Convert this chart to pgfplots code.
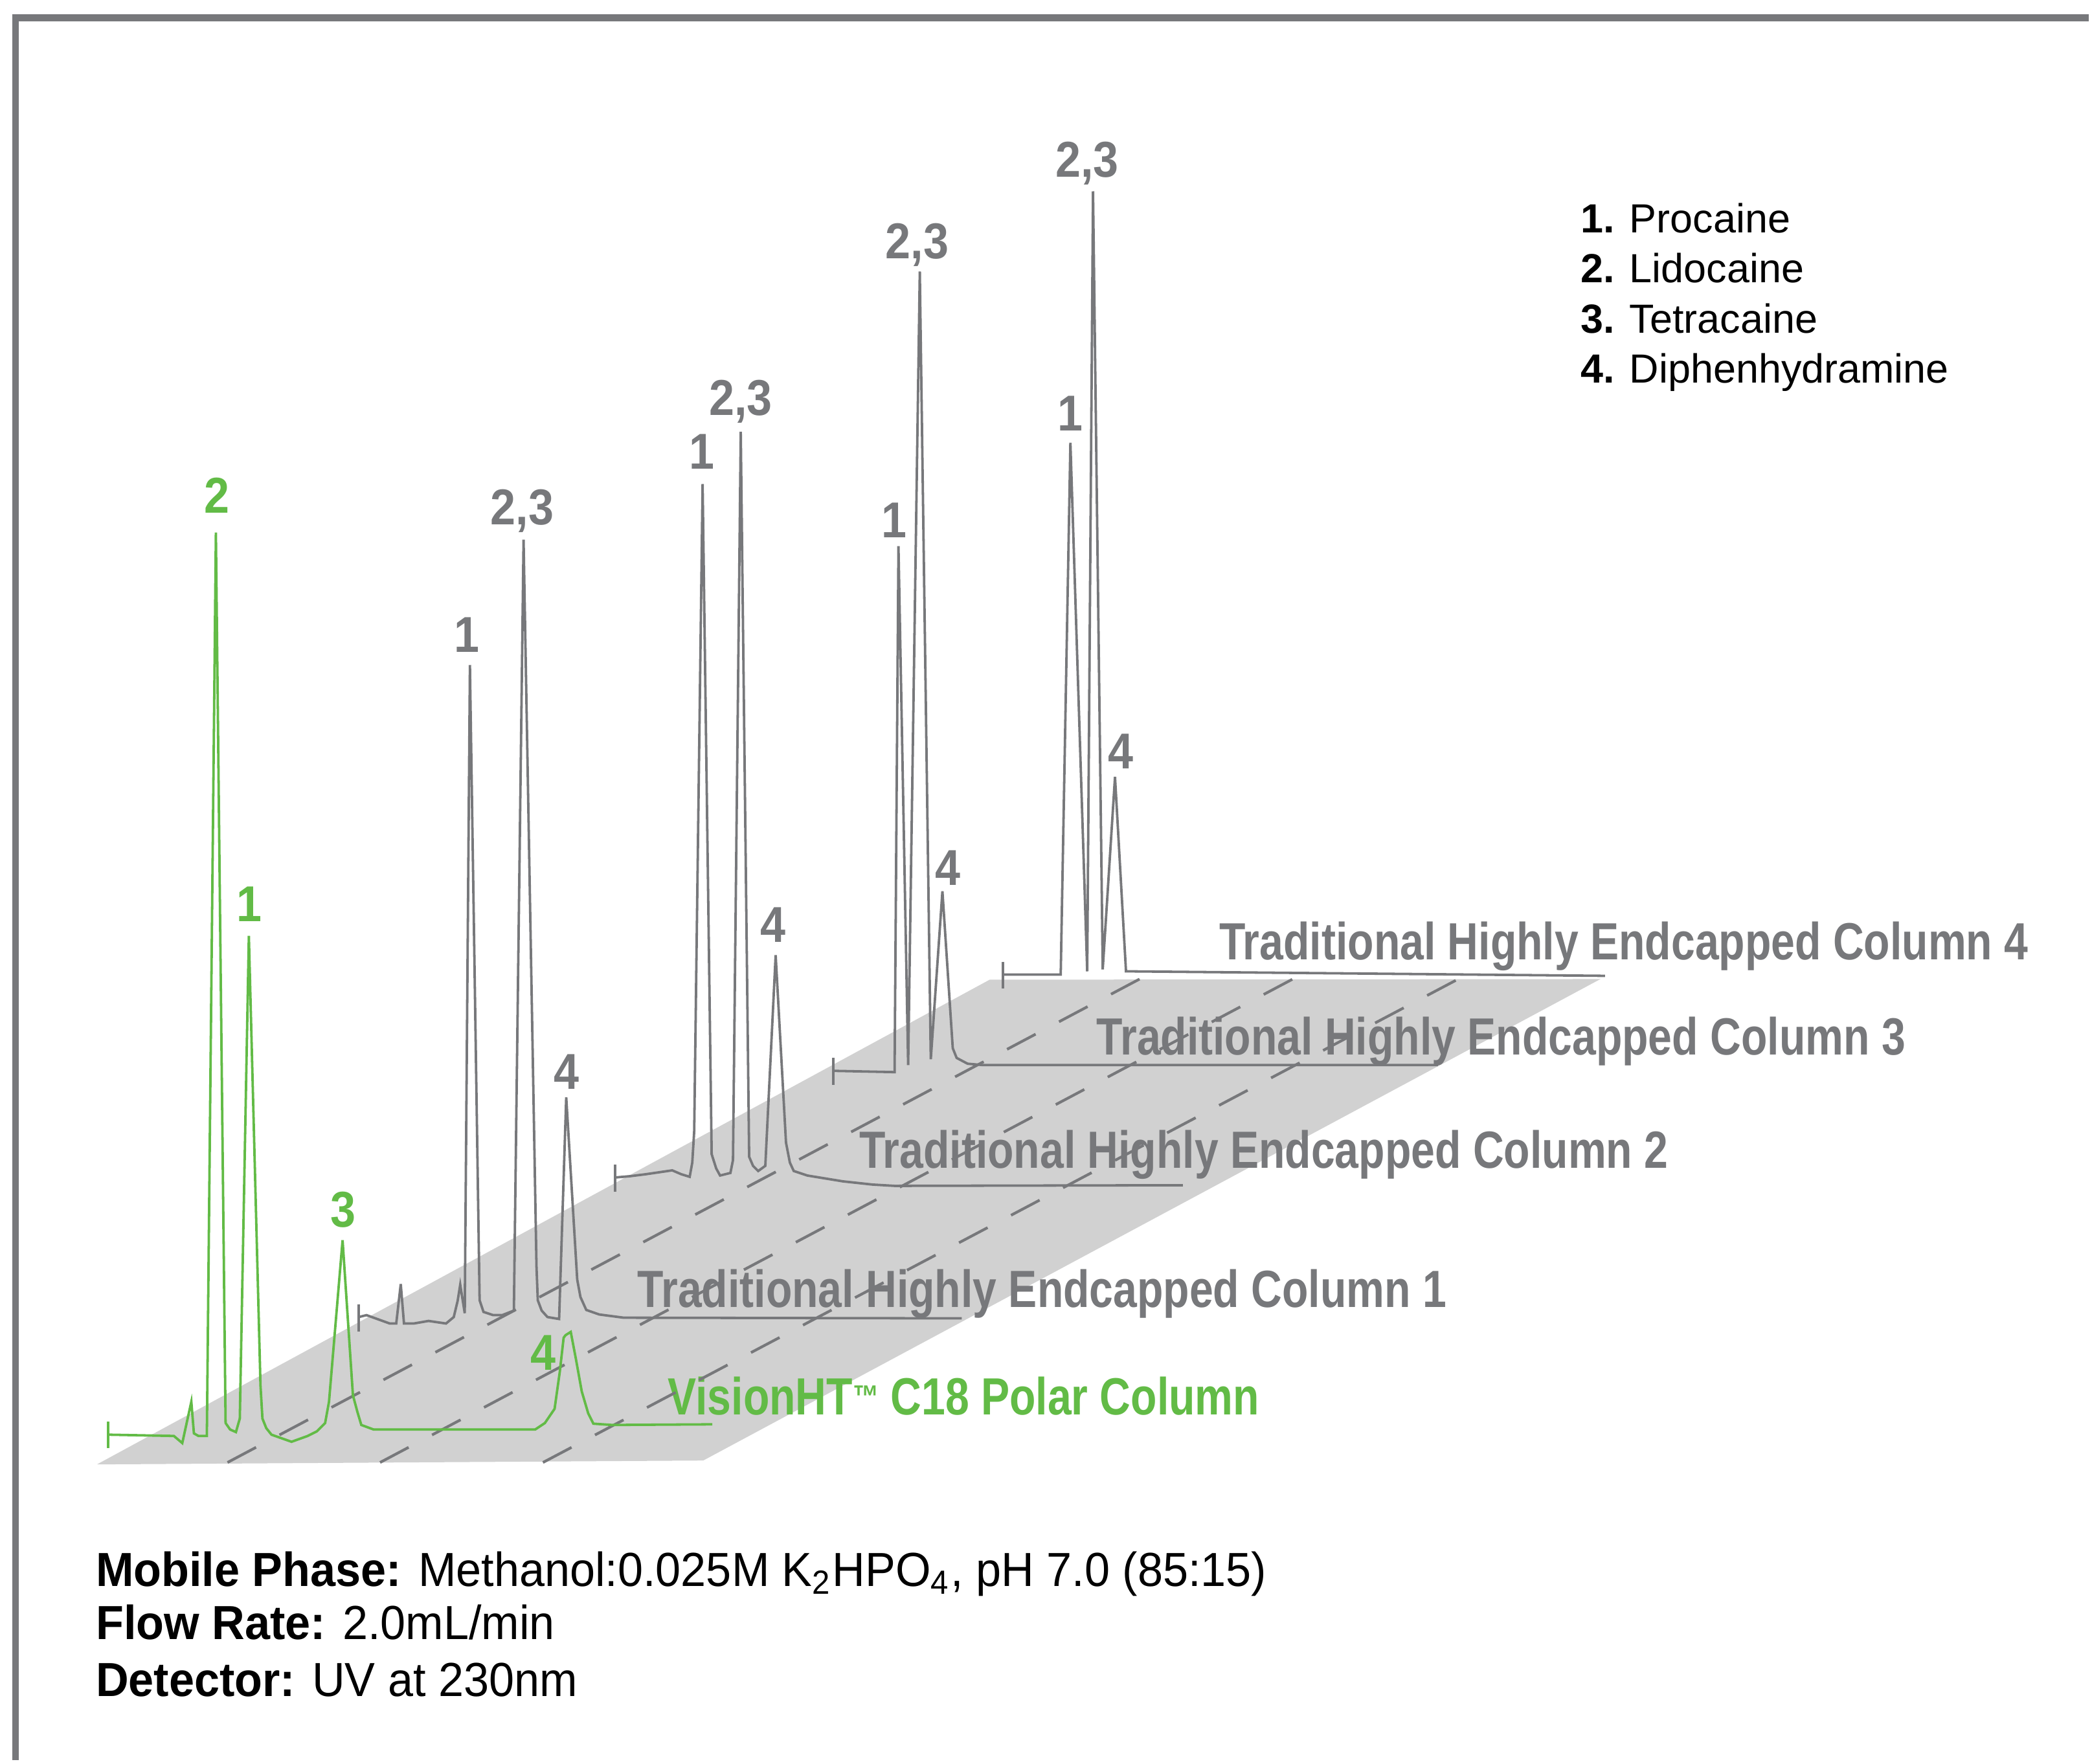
\documentclass[border=0pt]{standalone}
\usepackage{fontspec}
\setmainfont{Liberation Sans}
\newfontfamily\colfont[FakeStretch=0.818]{Liberation Sans}
\newfontfamily\peakfont[FakeStretch=0.9]{Liberation Sans}
\newfontfamily\notefont[FakeStretch=0.95]{Liberation Sans}
\usepackage{pgfplots}
\pgfplotsset{compat=1.18}

\definecolor{cgray}{RGB}{119,120,123}
\definecolor{vgreen}{RGB}{98,187,70}
\definecolor{floorgray}{RGB}{209,209,209}

% one drawing unit = 0.05 mm
\newcommand{\colsize}{\fontsize{11.52pt}{13pt}\selectfont}
\newcommand{\peaksize}{\fontsize{11.1pt}{12pt}\selectfont}
\newcommand{\legsize}{\fontsize{8.96pt}{10pt}\selectfont}
\newcommand{\notesize}{\fontsize{10.53pt}{12pt}\selectfont}

\tikzset{
  trace/.style={line width=0.19mm},
  peak/.style={anchor=base, inner sep=0pt, font=\peakfont\peaksize\bfseries},
  col/.style={anchor=base west, inner sep=0pt, font=\colfont\colsize\bfseries},
  note/.style={anchor=base west, inner sep=0pt, font=\notefont\notesize},
  key/.style={anchor=base west, inner sep=0pt, font=\legsize},
  guide/.style={cgray, line width=0.21mm, dash pattern=on 2.5mm off 2.05mm},
}

\begin{document}
\begin{tikzpicture}
\begin{axis}[
  scale only axis, width=161.55mm, height=136.2mm,
  xmin=0, xmax=3231, ymin=0, ymax=2724, y dir=reverse,
  hide axis, clip=false,
]
% page extent
\addplot[draw=none] coordinates {(0,0) (3231,2724)};

% frame
\addplot[cgray, line width=0.55mm] coordinates {(19,27.5) (3231,27.5)};
\addplot[cgray, line width=0.5mm] coordinates {(24,22) (24,2724)};

% floor of the stacked view
\addplot[draw=none, fill=floorgray] coordinates {(150,2266) (1088,2260) (2476,1515) (1531,1516)} -- cycle;

% column labels
\node[col, text=cgray] at (axis cs:1885,1485) {Traditional Highly Endcapped Column 4};
\node[col, text=cgray] at (axis cs:1695,1632) {Traditional Highly Endcapped Column 3};
\node[col, text=cgray] at (axis cs:1328,1808) {Traditional Highly Endcapped Column 2};
\node[col, text=cgray] at (axis cs:985,2023) {Traditional Highly Endcapped Column 1};
\node[col, text=vgreen] at (axis cs:1032,2189) {VisionHT{\fontsize{7pt}{8pt}\selectfont\raisebox{0.4ex}{™}} C18 Polar Column};

% time guide lines
\addplot[guide] coordinates {(352,2263) (1763,1515)};
\addplot[guide] coordinates {(588,2263) (2000,1515)};
\addplot[guide] coordinates {(840,2263) (2256,1515)};

% Column 4
\addplot[cgray, trace] coordinates {(1552,1488) (1552,1530)};
\addplot[cgray, trace] coordinates {
 (1552,1508) (1641,1508) (1656,685) (1682,1503) (1691,296) (1706,1500)
 (1725,1202) (1742,1503) (2483,1510)};
% Column 3
\addplot[cgray, trace] coordinates {(1289,1637) (1289,1679)};
\addplot[cgray, trace] coordinates {
 (1289,1657) (1384,1659) (1390,845) (1405,1648) (1423,420) (1440,1639)
 (1458,1379) (1474,1622) (1480,1637) (1497,1646) (1520,1648) (2225,1648)};
% Column 2
\addplot[cgray, trace] coordinates {(952,1802) (952,1844)};
\addplot[cgray, trace] coordinates {
 (952,1822) (975,1820) (999,1817) (1040,1811) (1054,1817) (1067,1821)
 (1071,1799) (1074,1750) (1087,749) (1101,1786) (1108,1808) (1114,1819)
 (1130,1815) (1134,1795) (1146,668) (1159,1790) (1165,1804) (1173,1812)
 (1184,1804) (1200,1478) (1216,1768) (1222,1799) (1228,1812) (1249,1819)
 (1304,1828) (1350,1833) (1384,1835) (1830,1834)};
% Column 1
\addplot[cgray, trace] coordinates {(555,2018) (555,2060)};
\addplot[cgray, trace] coordinates {
 (555,2038) (567,2035) (603,2048) (613,2048) (620,1987) (625,2048)
 (640,2048) (663,2044) (690,2048) (702,2038) (708,2013) (712,1988)
 (719,2032) (727,1029) (742,2012) (748,2030) (763,2035) (777,2035)
 (795,2028) (810,835) (830,1960) (832,2012) (838,2028) (847,2038)
 (865,2041) (876,1698) (893,1980) (898,2007) (907,2027) (927,2034)
 (965,2039) (1488,2040)};
% VisionHT C18 Polar
\addplot[vgreen, trace] coordinates {(167,2200) (167,2241)};
\addplot[vgreen, trace] coordinates {
 (167,2220) (269,2222) (282,2233) (296,2169) (300,2218) (307,2222)
 (320,2222) (334,824) (349,2202) (356,2212) (365,2216) (371,2195)
 (385,1448) (403,2144) (406,2195) (412,2210) (420,2220) (451,2231)
 (476,2222) (490,2215) (503,2202) (509,2169) (530,1919) (546,2159)
 (553,2185) (559,2205) (578,2212) (828,2212) (843,2202) (858,2180)
 (866,2123) (872,2070) (875,2066) (883,2061) (891,2103) (900,2153)
 (910,2187) (918,2203) (947,2205) (1102,2204)};

% peak labels
\node[peak, text=cgray] at (axis cs:1682,274) {2,3};
\node[peak, text=cgray] at (axis cs:1656,667) {1};
\node[peak, text=cgray] at (axis cs:1734,1189) {4};
\node[peak, text=cgray] at (axis cs:1419,400) {2,3};
\node[peak, text=cgray] at (axis cs:1383,832) {1};
\node[peak, text=cgray] at (axis cs:1466,1370) {4};
\node[peak, text=cgray] at (axis cs:1146,643) {2,3};
\node[peak, text=cgray] at (axis cs:1086,726) {1};
\node[peak, text=cgray] at (axis cs:1196,1458) {4};
\node[peak, text=cgray] at (axis cs:808,812) {2,3};
\node[peak, text=cgray] at (axis cs:722,1009) {1};
\node[peak, text=cgray] at (axis cs:876,1685) {4};
\node[peak, text=vgreen] at (axis cs:336,794) {2};
\node[peak, text=vgreen] at (axis cs:386,1426) {1};
\node[peak, text=vgreen] at (axis cs:531,1899) {3};
\node[peak, text=vgreen] at (axis cs:840,2120) {4};

% compound key
\node[key] at (axis cs:2444,360) {\textbf{1.} Procaine};
\node[key] at (axis cs:2444,437) {\textbf{2.} Lidocaine};
\node[key] at (axis cs:2444,515) {\textbf{3.} Tetracaine};
\node[key] at (axis cs:2444,592) {\textbf{4.} Diphenhydramine};

% conditions
\node[note] at (axis cs:147,2455)
  {\textbf{Mobile Phase:} Methanol:0.025M K\textsubscript{2}HPO\textsubscript{4}, pH 7.0 (85:15)};
\node[note] at (axis cs:147,2537) {\textbf{Flow Rate:} 2.0mL/min};
\node[note] at (axis cs:147,2625) {\textbf{Detector:} UV at 230nm};
\end{axis}
\end{tikzpicture}
\end{document}
